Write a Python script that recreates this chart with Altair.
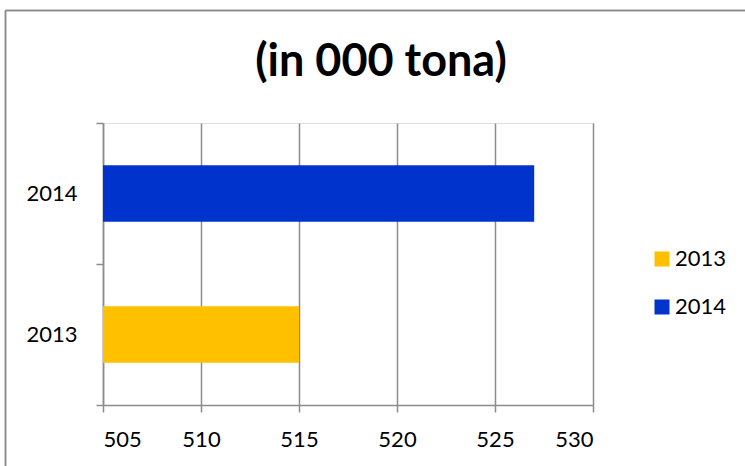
import altair as alt
import pandas as pd

# Annual quantity, in thousands of tonnes
years = ["2013", "2014"]
values = [515, 527]
colors = ["#FFC000", "#0033CC"]

X_MIN, X_MAX = 505, 530
FONT = "Lato"
GRID = "#8c8c8c"

df = pd.DataFrame({"year": years, "value": values})

bars = alt.Chart(df).mark_bar(height={"band": 0.4}).encode(
    y=alt.Y(
        "year:N",
        sort="descending",
        title=None,
        scale=alt.Scale(paddingInner=0, paddingOuter=0),
        axis=alt.Axis(
            tickBand="extent",
            tickSize=7,
            tickColor=GRID,
            tickWidth=1.5,
            domainColor=GRID,
            domainWidth=1.5,
            labelFont=FONT,
            labelFontSize=22,
            labelColor="#000000",
            labelPadding=19,
            grid=False,
        ),
    ),
    x=alt.X(
        "value:Q",
        title=None,
        scale=alt.Scale(domain=[X_MIN, X_MAX], nice=False, zero=False),
        axis=alt.Axis(
            values=[505, 510, 515, 520, 525, 530],
            tickSize=7,
            tickColor=GRID,
            tickWidth=1.5,
            domainColor=GRID,
            domainWidth=1.5,
            gridColor=GRID,
            gridWidth=1.5,
            labelFont=FONT,
            labelFontSize=22,
            labelColor="#000000",
            labelPadding=17,
        ),
    ),
    x2=alt.datum(X_MIN),
    color=alt.Color(
        "year:N",
        scale=alt.Scale(domain=years, range=colors),
        legend=alt.Legend(
            title=None,
            orient="none",
            legendX=548,
            legendY=125,
            symbolType="square",
            symbolSize=225,
            symbolStrokeWidth=0,
            symbolOpacity=1,
            labelFont=FONT,
            labelFontSize=22,
            labelColor="#000000",
            labelOffset=2,
            rowPadding=26,
            padding=0,
        ),
    ),
)

# Outer frame of the chart area (left and top edges)
frame_left = alt.Chart(df).mark_rule(color="#8a8a8a", strokeWidth=1.5).encode(
    x=alt.value(-97.5), y=alt.value(-112.5), y2=alt.value(400)
)
frame_top = alt.Chart(df).mark_rule(color="#8a8a8a", strokeWidth=1.5).encode(
    x=alt.value(-97.5), x2=alt.value(700), y=alt.value(-112.5)
)

chart = (
    alt.layer(bars, frame_left, frame_top)
    .properties(
        width=490,
        height=282,
        autosize=alt.AutoSizeParams(type="none"),
        padding={"left": 103, "top": 123, "right": 152, "bottom": 61},
        title=alt.TitleParams(
            "(in 000 tona)",
            font=FONT,
            fontSize=45,
            fontWeight="bold",
            color="#000000",
            anchor="middle",
            baseline="alphabetic",
            dx=33,
            offset=-111,
        ),
    )
    .configure_view(stroke=None)
    .configure(background="white")
)

chart.save("out.html", embed_options={"renderer": "svg", "actions": False})
